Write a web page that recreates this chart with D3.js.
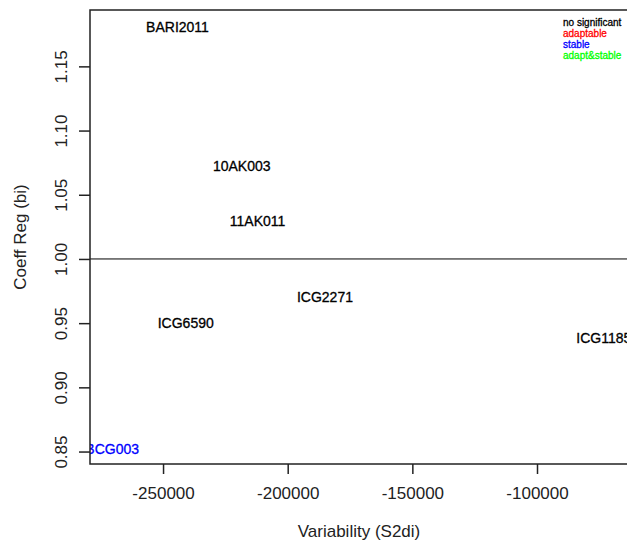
<!DOCTYPE html>
<html>
<head>
<meta charset="utf-8">
<script src="https://cdn.jsdelivr.net/npm/d3@7"></script>
<style>
  body { margin: 0; background: #fff; }
  svg { display: block; font-family: "Liberation Sans", Arial, sans-serif; }
</style>
</head>
<body>
<div class="canvas"></div>
<script>
// genotypes and their stability values
const genotypes = ["BARI2011", "10AK003", "11AK011", "ICG2271", "ICG6590", "ICG1185", "BCG003"];
const s2di = [-244200, -218450, -212100, -185050, -240900, -73200, -270400];
const bi = [1.1805, 1.0724, 1.0296, 0.9704, 0.9500, 0.9387, 0.8520];
const group = ["no significant", "no significant", "no significant", "no significant", "no significant", "no significant", "stable"];

const legendLabels = ["no significant", "adaptable", "stable", "adapt&stable"];
const legendColors = ["#000000", "#ff0000", "#0000ff", "#00ff00"];

const xTicks = [-250000, -200000, -150000, -100000];
const yTicks = [0.85, 0.90, 0.95, 1.00, 1.05, 1.10, 1.15];

const width = 627, height = 540;
const margin = { top: 10, right: -1, bottom: 76, left: 90 };
const graphWidth = width - margin.left - margin.right;
const graphHeight = height - margin.top - margin.bottom;

const svg = d3.select('.canvas')
    .append('svg')
    .attr('width', width)
    .attr('height', height);

const graph = svg.append('g')
    .attr('transform', `translate(${margin.left}, ${margin.top})`);

const x = d3.scaleLinear()
    .domain([-279300, -63500])
    .range([0, graphWidth]);

const y = d3.scaleLinear()
    .domain([0.8403, 1.1939])
    .range([graphHeight, 0]);

const color = d3.scaleOrdinal()
    .domain(legendLabels)
    .range(legendColors);

// clip labels to the plot region like R does
svg.append('defs').append('clipPath')
    .attr('id', 'plotClip')
    .append('rect')
    .attr('width', graphWidth)
    .attr('height', graphHeight);

// reference line at bi = 1
graph.append('line')
    .attr('x1', 0)
    .attr('x2', graphWidth)
    .attr('y1', y(1))
    .attr('y2', y(1))
    .attr('stroke', '#000')
    .attr('stroke-width', 1);

const data = genotypes.map((g, i) => ({ name: g, x: s2di[i], y: bi[i], group: group[i] }));

graph.append('g')
    .attr('clip-path', 'url(#plotClip)')
    .selectAll('text')
    .data(data)
    .enter()
    .append('text')
    .attr('x', d => x(d.x))
    .attr('y', d => y(d.y))
    .attr('dy', '0.36em')
    .attr('text-anchor', 'middle')
    .attr('font-size', '14px')
    .attr('fill', d => color(d.group))
    .attr('stroke', d => color(d.group))
    .attr('stroke-width', 0.3)
    .text(d => d.name);

// legend, top right
const legend = graph.append('g')
    .attr('transform', `translate(${graphWidth - 65}, 12)`);

legend.selectAll('text')
    .data(legendLabels)
    .enter()
    .append('text')
    .attr('x', 0)
    .attr('y', (d, i) => i * 11.2)
    .attr('dy', '0.35em')
    .attr('font-size', '10px')
    .attr('fill', d => color(d))
    .attr('stroke', d => color(d))
    .attr('stroke-width', 0.3)
    .text(d => d);

// axes
const xAxis = d3.axisBottom(x)
    .tickValues(xTicks)
    .tickSize(10)
    .tickPadding(13)
    .tickFormat(d => String(d));

const yAxis = d3.axisLeft(y)
    .tickValues(yTicks)
    .tickSize(11)
    .tickFormat(d3.format('.2f'));

const xAxisGroup = graph.append('g')
    .attr('transform', `translate(0, ${graphHeight})`)
    .call(xAxis);

const yAxisGroup = graph.append('g')
    .call(yAxis);

[xAxisGroup, yAxisGroup].forEach(g => {
    g.select('.domain').remove();
    g.selectAll('line').attr('stroke', '#222').attr('stroke-width', 1.5);
    g.selectAll('text')
        .attr('font-size', '17px')
        .attr('fill', '#222')
        .attr('font-family', '"Liberation Sans", Arial, sans-serif');
});

yAxisGroup.selectAll('text')
    .attr('transform', 'rotate(-90)')
    .attr('x', 0)
    .attr('y', -23)
    .attr('dy', 0)
    .attr('text-anchor', 'middle');

// box around plot region
graph.append('rect')
    .attr('width', graphWidth)
    .attr('height', graphHeight)
    .attr('fill', 'none')
    .attr('stroke', '#222')
    .attr('stroke-width', 1.5);

// axis titles
svg.append('text')
    .attr('x', margin.left + graphWidth / 2)
    .attr('y', 537)
    .attr('text-anchor', 'middle')
    .attr('font-size', '17px')
    .attr('fill', '#222')
    .text('Variability (S2di)');

svg.append('text')
    .attr('transform', `translate(26, ${margin.top + graphHeight / 2}) rotate(-90)`)
    .attr('text-anchor', 'middle')
    .attr('font-size', '17px')
    .attr('fill', '#222')
    .text('Coeff Reg (bi)');
</script>
</body>
</html>
